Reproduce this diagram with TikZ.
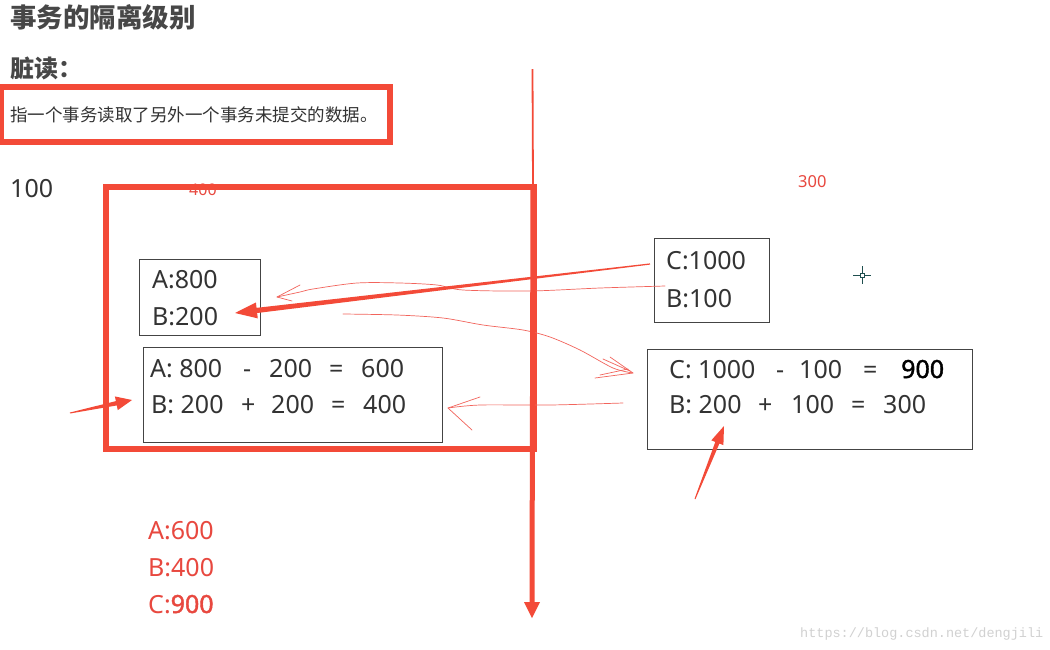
\documentclass[tikz,border=0pt]{standalone}
\usepackage{fontspec}
\setmainfont{Noto Sans}
\newfontfamily\cjk{Noto Sans CJK SC}
\newfontfamily\boldnum[FakeBold=1.6]{Noto Sans}
\newfontfamily\wmfont{Liberation Mono}
\usetikzlibrary{calc}
\definecolor{rbox}{HTML}{F34A38}
\definecolor{rthin}{HTML}{F2645C}
\definecolor{rtext}{HTML}{E8483F}
\definecolor{txtc}{HTML}{333333}
\definecolor{boxc}{HTML}{444444}
\definecolor{crossc}{HTML}{1F4F4F}
\newcommand\taperarrow[7]{% tail, tip, tail half width, neck half width, head length, head half width, name prefix
  \coordinate (#7n) at ($(#2)!#5!(#1)$);
  \fill[rbox] ($(#1)!#3!90:(#2)$) -- ($(#7n)!#4!90:(#2)$) -- ($(#7n)!#6!90:(#2)$) -- (#2)
    -- ($(#7n)!#6!-90:(#2)$) -- ($(#7n)!#4!-90:(#2)$) -- ($(#1)!#3!-90:(#2)$) -- cycle;}
\begin{document}
\begin{tikzpicture}[x=1pt,y=-1pt,
  num/.style={font=\fontsize{25}{30}\selectfont, text=txtc, inner sep=0pt, anchor=base west},
  rnum/.style={num, text=rtext},
  smallred/.style={font=\fontsize{16}{19}\selectfont, text=rtext, inner sep=0pt, anchor=base west},
  graybox/.style={draw=boxc, line width=1pt, anchor=north west, inner sep=0pt},
  redframe/.style={draw=rbox, line width=6pt},
  handline/.style={draw=rthin, line width=0.7pt, line cap=round, line join=round}]
\useasboundingbox (0,0) rectangle (1050,649);
\fill[white] (0,0) rectangle (1050,649);

% headings
\node[font=\cjk\bfseries\fontsize{26.5}{30}\selectfont, text=txtc!90!white, inner sep=0pt, anchor=west] (title) at (10,17) {事务的隔离级别};
\node[font=\cjk\bfseries\fontsize{24}{28}\selectfont, text=txtc!90!white, inner sep=0pt, anchor=west] (dirty) at (10,68) {脏读：};
\node[font=\cjk\fontsize{17.5}{20}\selectfont, text=txtc, inner sep=0pt, anchor=west] (desc) at (10,115) {指一个事务读取了另外一个事务未提交的数据。};
\draw[redframe] (1,86.5) rectangle (390,142);

\node[num] (hundred) at (10,197) {100};
\node[smallred] (v400) at (189,195) {400};
\node[smallred, font=\fontsize{16.5}{19}\selectfont] (v300) at (798,187) {300};

% big red frame
\draw[redframe] (106,187) rectangle (534,449);

% boxes
\node[graybox, minimum width=121pt, minimum height=76pt] (boxA) at (139,259) {};
\node[num] (a800) at (152,288) {A:800};
\node[num] (b200) at (152,325) {B:200};

\node[graybox, minimum width=299pt, minimum height=95pt] (boxAB) at (143,347) {};
\node[num] (m1a) at (150,377) {A: 800};
\node[num] (m1b) at (243,377) {-};
\node[num] (m1c) at (269,377) {200};
\node[num] (m1d) at (329,377) {=};
\node[num] (m1e) at (361,377) {600};
\node[num] (m2a) at (151,413) {B: 200};
\node[num] (m2b) at (241,413) {+};
\node[num] (m2c) at (271,413) {200};
\node[num] (m2d) at (331,413) {=};
\node[num] (m2e) at (363,413) {400};

\node[graybox, minimum width=115pt, minimum height=84pt] (boxC) at (654,238) {};
\node[num] (c1000) at (666,269) {C:1000};
\node[num] (b100) at (666,307) {B:100};

\node[graybox, minimum width=325pt, minimum height=100pt] (boxCB) at (647,349) {};
\node[num] (r1a) at (669,378) {C: 1000};
\node[num] (r1b) at (776,378) {-};
\node[num] (r1c) at (799,378) {100};
\node[num] (r1d) at (863,378) {=};
\node[num, font=\boldnum\fontsize{25}{30}\selectfont, text=black] (r1e) at (901,378) {900};
\node[num] (r2a) at (669,413) {B: 200};
\node[num] (r2b) at (758,413) {+};
\node[num] (r2c) at (791,413) {100};
\node[num] (r2d) at (851,413) {=};
\node[num] (r2e) at (883,413) {300};

% results
\node[rnum] (ra) at (148,539) {A:600};
\node[rnum] (rb) at (148,576) {B:400};
\node[rnum] (rc) at (148,613) {C:{\boldnum 900}};

% crosshair
\draw[crossc, line width=0.8pt] (853,275) -- (871,275) (862,266) -- (862,284);
\draw[crossc, line width=0.8pt, fill=white] (860,273) rectangle (864,277);

% watermark
\node[font=\wmfont\fontsize{13.5}{16}\selectfont, text=black!18, inner sep=0pt, anchor=base west] (wm) at (800,637) {https://blog.csdn.net/dengjili};

% thin hand-drawn arrows
\coordinate (h1s) at (665,286);
\coordinate (h1t) at (277,297);
\draw[handline] plot[smooth, tension=0.5] coordinates {(h1s) (600,288) (530,291) (463,290) (437,285) (400,283) (357,283) (313,289) (300,292) (h1t)};
\draw[handline] (300,285) -- (h1t) -- (292,301);

\coordinate (h2s) at (343,314);
\coordinate (h2t) at (633,373);
\draw[handline] plot[smooth, tension=0.5] coordinates {(h2s) (397,315) (443,318) (483,325) (523,330) (550,337) (580,350) (613,368) (h2t)};
\draw[handline] (610,357) -- (h2t) -- (595,378);
\draw[handline] (603,359) -- (630,371) (600,375) -- (628,369);

\coordinate (h3s) at (623,403);
\coordinate (h3t) at (448,408);
\draw[handline] plot[smooth, tension=0.5] coordinates {(h3s) (550,405) (480,405) (h3t)};
\draw[handline] (480,397) -- (h3t) -- (472,430);

% thick arrows
\coordinate (t1) at (650,264);
\coordinate (p1) at (235,313);
\taperarrow{t1}{p1}{0.6pt}{2.6pt}{22pt}{8pt}{a1}
\coordinate (t2) at (70,413);
\coordinate (p2) at (132,400);
\taperarrow{t2}{p2}{0.5pt}{2.2pt}{16pt}{7pt}{a2}
\coordinate (t3) at (695,499);
\coordinate (p3) at (724,426);
\taperarrow{t3}{p3}{0.5pt}{2.2pt}{18pt}{6.5pt}{a3}

% vertical timeline
\coordinate (vtop) at (532.5,69);
\coordinate (vmid) at (533,186);
\coordinate (vbot) at (532,618);
\draw[rbox, line width=1.8pt] (vtop) -- (vmid);
\draw[rbox, line width=5pt] (vmid) -- ($(vbot)+(0,-16)$);
\fill[rbox] ($(vbot)+(-8,-16)$) -- ($(vbot)+(8,-16)$) -- (vbot) -- cycle;
\end{tikzpicture}
\end{document}
